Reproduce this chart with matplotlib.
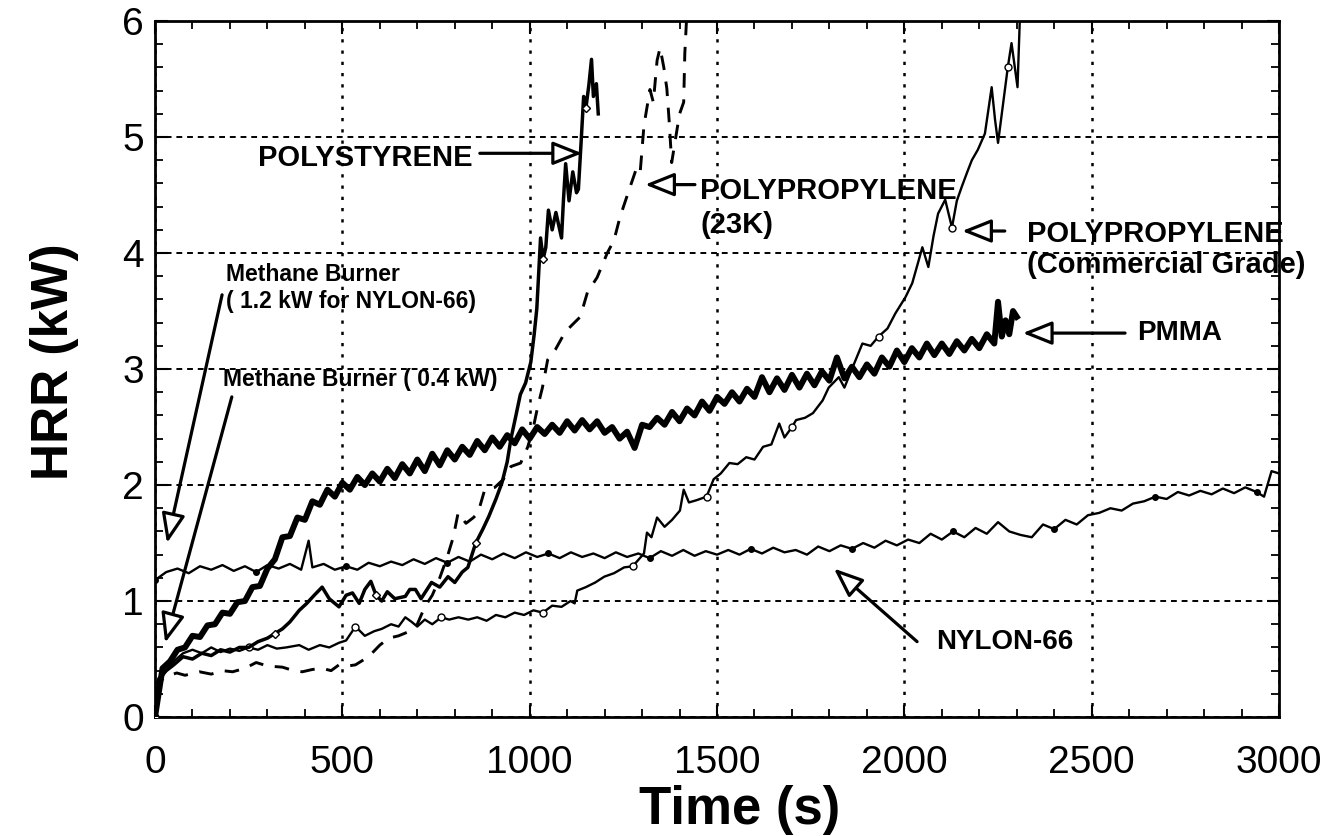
import matplotlib
matplotlib.use("Agg")
import matplotlib.pyplot as plt
from matplotlib.ticker import MultipleLocator

plt.rcParams['font.family'] = ['Liberation Sans', 'DejaVu Sans']

# ---------------- data ----------------
pmma_t = [0, 20, 40, 60, 80, 100, 120, 140, 160, 180, 200, 220, 240, 260, 280, 300, 320, 340, 360, 380,
          400, 420, 440, 460, 480, 500, 520, 540, 560, 580, 600, 620, 640, 660, 680, 700, 720, 740, 760, 780,
          800, 820, 840, 860, 880, 900, 920, 940, 960, 980, 1000, 1020, 1040, 1060, 1080, 1100, 1120, 1140,
          1160, 1180, 1200, 1220, 1240, 1260, 1280, 1300, 1320, 1340, 1360, 1380, 1400, 1420, 1440, 1460,
          1480, 1500, 1520, 1540, 1560, 1580, 1600, 1620, 1640, 1660, 1680, 1700, 1720, 1740, 1760, 1780,
          1800, 1820, 1840, 1860, 1880, 1900, 1920, 1940, 1960, 1980, 2000, 2020, 2040, 2060, 2080, 2100,
          2120, 2140, 2160, 2180, 2200, 2220, 2240, 2250, 2260, 2270, 2280, 2290, 2300]
pmma_v = [0.00, 0.42, 0.48, 0.58, 0.60, 0.70, 0.69, 0.79, 0.80, 0.90, 0.89, 0.99, 1.00, 1.12, 1.13, 1.28,
          1.36, 1.55, 1.56, 1.72, 1.70, 1.86, 1.83, 1.96, 1.90, 2.02, 1.96, 2.07, 2.00, 2.10, 2.03, 2.14,
          2.06, 2.18, 2.10, 2.22, 2.12, 2.27, 2.17, 2.30, 2.22, 2.33, 2.26, 2.38, 2.30, 2.41, 2.33, 2.43,
          2.36, 2.48, 2.40, 2.50, 2.44, 2.52, 2.45, 2.55, 2.47, 2.56, 2.48, 2.55, 2.45, 2.50, 2.40, 2.46,
          2.32, 2.52, 2.50, 2.58, 2.52, 2.63, 2.55, 2.66, 2.60, 2.72, 2.64, 2.76, 2.70, 2.80, 2.72, 2.83,
          2.76, 2.93, 2.80, 2.92, 2.82, 2.95, 2.84, 2.96, 2.86, 2.98, 2.90, 3.10, 2.92, 3.02, 2.93, 3.04,
          2.96, 3.10, 3.02, 3.16, 3.06, 3.18, 3.10, 3.22, 3.12, 3.22, 3.13, 3.24, 3.16, 3.26, 3.18, 3.30,
          3.22, 3.58, 3.28, 3.42, 3.30, 3.50, 3.45]

nylon_t = [0, 30, 60, 90, 120, 150, 180, 210, 240, 270, 300, 330, 360, 390, 410, 420, 450, 480, 510, 540,
           570, 600, 630, 660, 690, 720, 750, 780, 810, 840, 870, 900, 930, 960, 990, 1020, 1050, 1080,
           1110, 1140, 1170, 1200, 1230, 1260, 1290, 1320, 1350, 1380, 1410, 1440, 1470, 1500, 1530,
           1560, 1590, 1620, 1650, 1680, 1710, 1740, 1770, 1800, 1830, 1860, 1890, 1920, 1950, 1980,
           2010, 2040, 2070, 2100, 2130, 2160, 2190, 2220, 2250, 2280, 2310, 2340, 2370, 2400, 2430,
           2460, 2490, 2520, 2550, 2580, 2610, 2640, 2670, 2700, 2730, 2760, 2790, 2820, 2850, 2880,
           2910, 2940, 2960, 2980, 3000]
nylon_v = [1.18, 1.25, 1.28, 1.24, 1.30, 1.27, 1.31, 1.26, 1.30, 1.25, 1.31, 1.28, 1.32, 1.27, 1.52,
           1.29, 1.32, 1.27, 1.30, 1.27, 1.33, 1.30, 1.34, 1.31, 1.36, 1.32, 1.37, 1.33, 1.38, 1.34,
           1.40, 1.36, 1.41, 1.37, 1.42, 1.38, 1.41, 1.37, 1.42, 1.38, 1.41, 1.37, 1.42, 1.38, 1.41,
           1.37, 1.43, 1.39, 1.44, 1.39, 1.43, 1.40, 1.44, 1.40, 1.45, 1.41, 1.46, 1.42, 1.44, 1.40,
           1.47, 1.43, 1.48, 1.45, 1.50, 1.46, 1.52, 1.48, 1.53, 1.50, 1.58, 1.53, 1.60, 1.55, 1.63,
           1.58, 1.68, 1.60, 1.57, 1.55, 1.66, 1.62, 1.70, 1.66, 1.74, 1.76, 1.80, 1.78, 1.84, 1.86,
           1.90, 1.88, 1.94, 1.91, 1.95, 1.92, 1.97, 1.93, 1.98, 1.94, 1.90, 2.12, 2.10]

ps_t = [0, 10, 30, 50, 75, 100, 125, 150, 175, 200, 225, 250, 275, 300, 320, 340, 360, 385, 405, 425,
        446, 465, 491, 510, 527, 545, 560, 576, 590, 605, 620, 640, 668, 680, 695, 710, 738, 760, 782,
        800, 820, 835, 856, 875, 891, 910, 926, 940, 950, 962, 975, 989, 1003, 1012, 1019, 1029, 1036,
        1043, 1050, 1060, 1070, 1085, 1090, 1096, 1105, 1115, 1125, 1130, 1138, 1144, 1150, 1158, 1165,
        1170, 1178, 1183]
ps_v = [0.00, 0.33, 0.40, 0.45, 0.52, 0.50, 0.55, 0.53, 0.58, 0.56, 0.60, 0.60, 0.65, 0.68, 0.72, 0.76,
        0.82, 0.92, 0.98, 1.05, 1.12, 1.02, 0.95, 1.05, 1.07, 0.98, 1.10, 1.17, 1.05, 1.00, 1.08, 1.02,
        1.04, 1.10, 1.10, 1.02, 1.16, 1.12, 1.21, 1.16, 1.25, 1.29, 1.50, 1.62, 1.73, 1.88, 2.02, 2.20,
        2.40, 2.58, 2.78, 2.88, 3.06, 3.30, 3.52, 4.13, 3.95, 4.05, 4.37, 4.20, 4.35, 4.13, 4.45, 4.77,
        4.45, 4.70, 4.52, 4.55, 5.00, 5.35, 5.25, 5.45, 5.67, 5.35, 5.46, 5.20]

pp23_t = [0, 10, 30, 58, 80, 119, 150, 180, 207, 240, 270, 300, 340, 370, 393, 420, 446, 470, 491, 515,
          535, 560, 579, 600, 624, 650, 680, 700, 720, 740, 760, 780, 796, 809, 830, 850, 862, 880, 907,
          930, 950, 976, 995, 1010, 1021, 1034, 1048, 1069, 1093, 1110, 1135, 1154, 1180, 1207, 1225,
          1241, 1268, 1286, 1295, 1305, 1321, 1330, 1340, 1348, 1358, 1366, 1372, 1379, 1390, 1400,
          1411, 1414, 1420]
pp23_v = [0.00, 0.30, 0.35, 0.38, 0.36, 0.39, 0.37, 0.40, 0.39, 0.42, 0.47, 0.44, 0.43, 0.40, 0.39,
          0.41, 0.42, 0.40, 0.45, 0.44, 0.45, 0.50, 0.55, 0.62, 0.68, 0.70, 0.74, 0.80, 0.95, 1.05,
          1.20, 1.38, 1.55, 1.76, 1.67, 1.72, 1.76, 1.96, 1.98, 2.05, 2.16, 2.19, 2.33, 2.50, 2.67,
          2.84, 3.08, 3.17, 3.31, 3.37, 3.45, 3.66, 3.79, 4.00, 4.11, 4.31, 4.57, 4.74, 4.70, 5.10,
          5.41, 5.30, 5.66, 5.77, 5.60, 5.42, 5.15, 4.78, 5.00, 5.20, 5.30, 5.72, 6.10]

ppc_t = [0, 10, 30, 50, 75, 100, 125, 150, 175, 200, 225, 250, 275, 300, 325, 350, 385, 410, 440, 465,
         491, 510, 535, 560, 585, 605, 630, 650, 668, 685, 700, 720, 740, 764, 785, 810, 836, 860, 885,
         910, 935, 960, 985, 1010, 1035, 1060, 1085, 1109, 1120, 1127, 1150, 1175, 1199, 1225, 1252,
         1275, 1305, 1313, 1325, 1340, 1360, 1380, 1401, 1411, 1425, 1446, 1472, 1491, 1510, 1533,
         1555, 1578, 1600, 1623, 1645, 1666, 1680, 1700, 1711, 1735, 1756, 1782, 1798, 1825, 1840,
         1860, 1888, 1910, 1931, 1955, 1976, 2003, 2021, 2035, 2048, 2064, 2078, 2090, 2109, 2127,
         2140, 2153, 2168, 2180, 2196, 2215, 2233, 2242, 2250, 2262, 2276, 2286, 2302, 2308, 2312]
ppc_v = [0.00, 0.30, 0.40, 0.48, 0.55, 0.58, 0.55, 0.60, 0.56, 0.59, 0.57, 0.60, 0.58, 0.62, 0.59,
         0.60, 0.62, 0.58, 0.62, 0.60, 0.64, 0.66, 0.78, 0.70, 0.74, 0.76, 0.80, 0.78, 0.86, 0.82,
         0.78, 0.84, 0.80, 0.86, 0.84, 0.86, 0.84, 0.86, 0.83, 0.88, 0.86, 0.90, 0.88, 0.92, 0.90,
         0.96, 0.95, 1.00, 0.98, 1.09, 1.12, 1.16, 1.21, 1.24, 1.29, 1.30, 1.41, 1.59, 1.55, 1.72,
         1.64, 1.70, 1.78, 1.96, 1.85, 1.87, 1.90, 2.05, 2.10, 2.19, 2.18, 2.24, 2.22, 2.33, 2.35,
         2.53, 2.41, 2.50, 2.56, 2.58, 2.62, 2.73, 2.84, 2.93, 2.84, 3.00, 3.22, 3.20, 3.28, 3.35,
         3.48, 3.62, 3.74, 3.90, 4.05, 3.88, 4.15, 4.34, 4.46, 4.22, 4.45, 4.57, 4.70, 4.80, 4.89,
         5.03, 5.43, 5.15, 4.95, 5.25, 5.60, 5.81, 5.43, 6.00, 6.20]

x_ticks = [0, 500, 1000, 1500, 2000, 2500, 3000]
y_ticks = [0, 1, 2, 3, 4, 5, 6]

# ---------------- figure ----------------
fig = plt.figure(figsize=(13.34, 8.36), dpi=100)
ax = fig.add_axes([0.1162, 0.1423, 0.8426, 0.8325])

ax.plot(nylon_t, nylon_v, color='black', lw=1.7, marker='o', ms=4, markevery=9, zorder=3)
ax.plot(ppc_t, ppc_v, color='black', lw=1.7, marker='o', ms=5, mfc='white', markevery=11, zorder=3)
ax.plot(pp23_t, pp23_v, color='black', lw=2.1, dashes=(5, 4), zorder=3)
ax.plot(ps_t, ps_v, color='black', lw=2.5, marker='D', ms=4, mfc='white', markevery=14, zorder=4)
ax.plot(pmma_t, pmma_v, color='black', lw=4.3, zorder=5)

ax.set_xlim(0, 3000)
ax.set_ylim(0, 6)
ax.set_xticks(x_ticks)
ax.set_yticks(y_ticks)
ax.xaxis.set_minor_locator(MultipleLocator(100))
ax.yaxis.set_minor_locator(MultipleLocator(0.2))
ax.tick_params(axis='both', which='both', direction='in', top=True, right=True, colors='black')
ax.tick_params(axis='both', which='major', length=9, width=1.5, labelsize=28)
ax.tick_params(axis='both', which='minor', length=6, width=1.3)
ax.tick_params(axis='x', which='major', pad=20)
ax.tick_params(axis='y', which='major', pad=8)
for s in ax.spines.values():
    s.set_linewidth(2.0)

ax.xaxis.grid(True, which='major', color='black', linestyle=(0, (1.3, 3.2)), lw=1.8)
ax.yaxis.grid(True, which='major', color='black', linestyle=(0, (3, 2.5)), lw=1.4)
ax.set_axisbelow(True)

ax.set_xlabel('Time (s)', fontsize=38, fontweight='bold', va='center')
ax.set_ylabel('HRR (kW)', fontsize=37, fontweight='bold')
ax.xaxis.set_label_coords(0.52, -0.134)
ax.yaxis.set_label_coords(-0.068, 0.51)

arrow_kw = dict(arrowstyle='-|>,head_length=0.6,head_width=0.24', fc='white', ec='black',
                lw=2.3, mutation_scale=30, shrinkA=0, shrinkB=0)

def label(txt, xy_text, xy_head, xy_tail, size=21, ls=1.3):
    ax.text(xy_text[0], xy_text[1], txt, fontsize=size, fontweight='bold', ha='left', va='center',
            linespacing=ls, zorder=6)
    ax.annotate('', xy=xy_head, xytext=xy_tail, arrowprops=arrow_kw, annotation_clip=False, zorder=6)

label('POLYSTYRENE', (275, 4.82), (1140, 4.86), (867, 4.86))
label('POLYPROPYLENE\n(23K)', (1455, 4.39), (1308, 4.59), (1441, 4.59), ls=1.3)
label('POLYPROPYLENE\n(Commercial Grade)', (2327, 4.03), (2154, 4.19), (2268, 4.19), ls=1.15)
label('PMMA', (2621, 3.31), (2316, 3.31), (2589, 3.31), size=20)
label('NYLON-66', (2084, 0.65), (1812, 1.28), (2034, 0.65), size=20)
label('Methane Burner\n( 1.2 kW for NYLON-66)', (189, 3.70), (32, 1.50), (179, 3.64), size=16.5, ls=1.25)
label('Methane Burner ( 0.4 kW)', (181, 2.91), (27, 0.64), (205, 2.76), size=16.5)

fig.savefig('out.png', dpi=100)
